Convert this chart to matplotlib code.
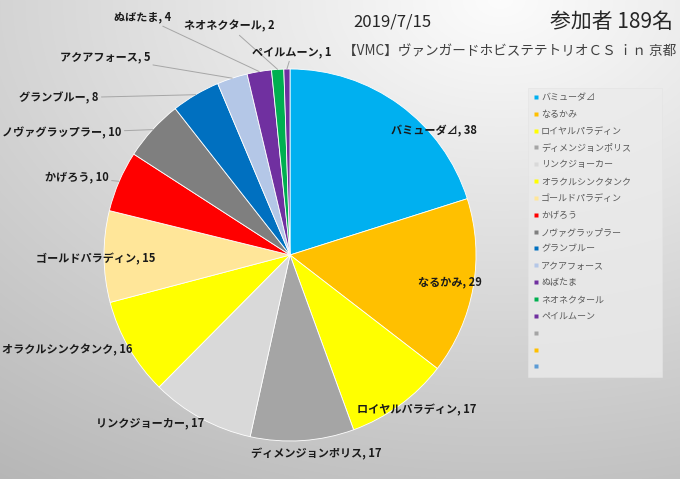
import numpy as np
import matplotlib
matplotlib.use("Agg")
import matplotlib.pyplot as plt
from matplotlib.lines import Line2D

plt.rcParams['font.family'] = ['Noto Sans CJK JP', 'DejaVu Sans']

# data
names = ['バミューダ⊿', 'なるかみ', 'ロイヤルパラディン', 'ディメンジョンポリス',
         'リンクジョーカー', 'オラクルシンクタンク', 'ゴールドパラディン', 'かげろう',
         'ノヴァグラップラー', 'グランブルー', 'アクアフォース', 'ぬばたま',
         'ネオネクタール', 'ペイルムーン']
counts = [38, 29, 17, 17, 17, 16, 15, 10, 10, 8, 5, 4, 2, 1]
colors = ['#00B0F0', '#FFC000', '#FFFF00', '#A5A5A5', '#D9D9D9', '#FFFF00',
          '#FFE699', '#FF0000', '#7F7F7F', '#0070C0', '#B4C7E7', '#7030A0',
          '#00B050', '#7030A0']
# empty legend rows at the end of the legend
extra_colors = ['#A5A5A5', '#FFC000', '#5B9BD5']

date_text = '2019/7/15'
count_text = '参加者 189名'
sub_text = '【VMC】ヴァンガードホビステテトリオＣＳ ｉｎ 京都'

# label layout (pie radius units)
label_pos = [(0.774, 0.667), (0.860, -0.145), (0.683, -0.833), (0.140, -1.070),
             (-0.753, -0.903), (-1.199, -0.511), (-1.043, -0.022), (-1.145, 0.419),
             (-1.226, 0.656), (-1.242, 0.844), (-0.995, 1.065), (-0.790, 1.280),
             (-0.328, 1.231), (0.011, 1.091)]
leader = [False] * 7 + [True] * 7

W, H = 680, 479
fig = plt.figure(figsize=(W / 100, H / 100), dpi=100)

# background gradient
bg = fig.add_axes([0, 0, 1, 1])
yy, xx = np.mgrid[0:H, 0:W]
d = np.sqrt(((xx - 500) * 0.08) ** 2 + ((yy + 0) * 0.119) ** 2)
shade = np.clip(252 - d, 180, 255) / 255.0
bg.imshow(np.dstack([shade] * 3), aspect='auto', extent=[0, W, H, 0])
bg.set_axis_off()

# pie
cx, cy, r = 290, 255, 186
ax = fig.add_axes([(cx - r) / W, (H - cy - r) / H, 2 * r / W, 2 * r / H])
ax.set_facecolor('none')
wedges, _ = ax.pie(counts, colors=colors, startangle=90, counterclock=False,
                   radius=1, wedgeprops=dict(edgecolor='white', linewidth=0.6))
ax.set_xlim(-1, 1)
ax.set_ylim(-1, 1)
ax.set_aspect('equal')

for i, w in enumerate(wedges):
    txt = names[i] + ', ' + str(counts[i])
    if leader[i]:
        a = np.deg2rad((w.theta1 + w.theta2) / 2)
        ax.annotate(txt, xy=(np.cos(a), np.sin(a)), xytext=label_pos[i],
                    ha='center', va='center', fontsize=8, fontweight='bold',
                    color='#1a1a1a', annotation_clip=False,
                    arrowprops=dict(arrowstyle='-', color='#A6A6A6', lw=0.7,
                                    shrinkA=0, shrinkB=0))
    else:
        ax.text(label_pos[i][0], label_pos[i][1], txt, ha='center', va='center',
                fontsize=8, fontweight='bold', color='#1a1a1a', clip_on=False)

# titles
fig.text(392 / W, 1 - 22 / H, date_text, ha='center', va='center', fontsize=12,
         color='#262626')
fig.text(612 / W, 1 - 22 / H, count_text, ha='center', va='center', fontsize=15,
         color='#262626')
fig.text(676 / W, 1 - 52 / H, sub_text, ha='right', va='center', fontsize=9.8,
         color='#404040')

# legend
handles = [Line2D([], [], marker='s', linestyle='none', markersize=3.2,
                  markerfacecolor=c, markeredgecolor='none')
           for c in colors + extra_colors]
labels = names + [''] * len(extra_colors)
leg = fig.legend(handles, labels, loc='upper left',
                 bbox_to_anchor=(528 / W, 1 - 88 / H, 134 / W, 0),
                 mode='expand', fontsize=6.5, labelcolor='#595959',
                 frameon=True, fancybox=False, borderpad=0.55,
                 labelspacing=0.87, handlelength=0.6, handletextpad=0.3,
                 borderaxespad=0)
leg.get_frame().set_facecolor('#EBEBEB')
leg.get_frame().set_edgecolor('#E3E3E3')
leg.get_frame().set_linewidth(0.5)

fig.savefig('out.png', dpi=100)
